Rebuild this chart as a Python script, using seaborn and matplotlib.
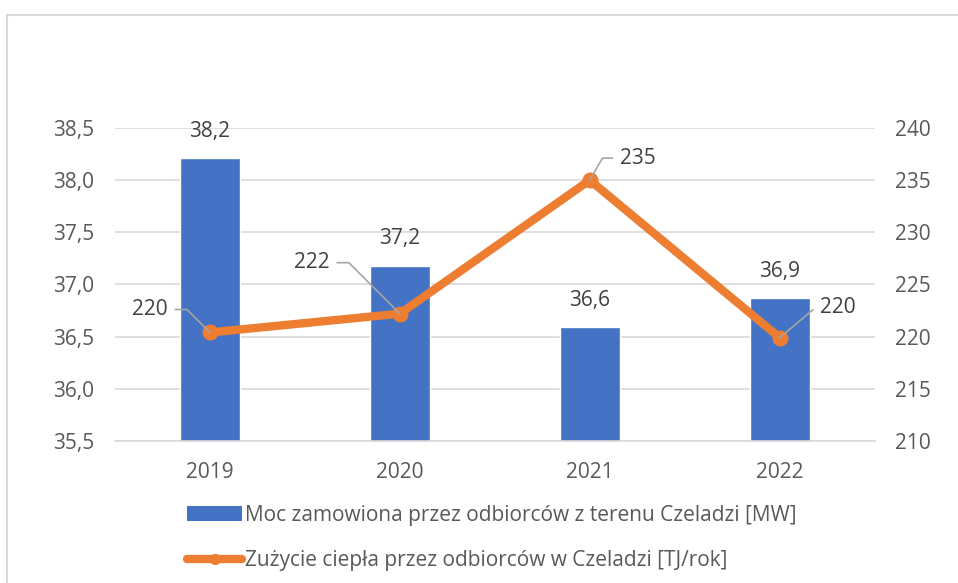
import numpy as np
import seaborn as sns
import matplotlib.pyplot as plt
from matplotlib.patches import Rectangle, Patch
from matplotlib.lines import Line2D

# data
years = ["2019", "2020", "2021", "2022"]
moc = [38.21, 37.18, 36.59, 36.87]          # MW, left axis
heat = [220.4, 222.2, 235.0, 219.9]         # TJ/rok, right axis
bar_label = "Moc zamowiona przez odbiorców z terenu Czeladzi [MW]"
line_label = "Zużycie ciepła przez odbiorców w Czeladzi [TJ/rok]"
left_ticks = [35.5, 36.0, 36.5, 37.0, 37.5, 38.0, 38.5]
right_ticks = [210, 215, 220, 225, 230, 235, 240]

blue = "#4472c4"
orange = "#ed7d31"
grid_col = "#d9d9d9"
tick_col = "#595959"
label_col = "#404040"
fs = 15

sns.set_style("white")
plt.rcParams["font.family"] = ["Open Sans", "DejaVu Sans"]
plt.rcParams["font.size"] = fs

fig = plt.figure(figsize=(9.58, 5.83), dpi=100)
ax = fig.add_axes([0.120, 0.2436, 0.793, 0.5369])

# bars
sns.barplot(x=years, y=moc, color=blue, width=0.316, saturation=1, ax=ax)
ax.set_ylim(35.5, 38.5)
ax.set_yticks(left_ticks)
ax.set_yticklabels([f"{v:.1f}".replace(".", ",") for v in left_ticks])
ax.yaxis.grid(True, color=grid_col, lw=1.2)
ax.set_axisbelow(True)
for s in ["top", "left", "right"]:
    ax.spines[s].set_visible(False)
ax.spines["bottom"].set_color(grid_col)
ax.spines["bottom"].set_linewidth(1.2)
ax.tick_params(axis="both", length=0, colors=tick_col, labelsize=fs)
ax.tick_params(axis="y", pad=15)
ax.tick_params(axis="x", pad=15)
ax.set_xlabel("")

for p, v in zip(ax.patches, moc):
    ax.annotate(f"{v:.1f}".replace(".", ","),
                (p.get_x() + p.get_width() / 2, p.get_height()),
                xytext=(0, 27), textcoords="offset pixels",
                ha="center", va="center", color=label_col, fontsize=fs)

# line on secondary axis
ax2 = ax.twinx()
sns.pointplot(x=years, y=heat, color=orange, errorbar=None, ax=ax2,
              linewidth=6, markersize=7, solid_joinstyle="round",
              solid_capstyle="round")
ax2.set_ylim(210, 240)
ax2.set_yticks(right_ticks)
ax2.set_yticklabels([str(v) for v in right_ticks])
ax2.set_xlim(-0.5, 3.5)
for s in ax2.spines.values():
    s.set_visible(False)
ax2.tick_params(axis="y", length=0, colors=tick_col, labelsize=fs, pad=15)
ax2.set_ylabel("")
ax2.set_xlabel("")

# data labels with leader lines
offsets = [(-60, 23), (-88, 51), (48, 22), (58, 30)]
angles = [135, 135, 60, 40]
pts = ax2.lines[0].get_xydata()
for (x, y), v, off, ang in zip(pts, heat, offsets, angles):
    ax2.annotate(f"{v:.0f}", (x, y), xytext=off, textcoords="offset pixels",
                 ha="center", va="center", color=label_col, fontsize=fs,
                 arrowprops=dict(arrowstyle="-", color="#a6a6a6", lw=1.2,
                                 shrinkA=3, shrinkB=0,
                                 connectionstyle=f"angle,angleA=0,angleB={ang},rad=0"))

# legend below the plot
handles = [
    Patch(facecolor=blue, edgecolor="none"),
    Line2D([0], [0], color=orange, lw=6, marker="o", markersize=7,
           solid_capstyle="round"),
]
fig.legend(handles, [bar_label, line_label], loc="upper left",
           bbox_to_anchor=(0.187, 0.148), frameon=False, fontsize=fs,
           handlelength=2.6, handletextpad=0.15, labelspacing=1.15,
           borderaxespad=0, labelcolor=tick_col)

# chart frame
fig.patches.append(Rectangle((7 / 958, -0.2), 1.2, 0.974 + 0.2,
                             transform=fig.transFigure, fill=False,
                             edgecolor=grid_col, lw=1.5))

fig.savefig("out.png", dpi=100)
